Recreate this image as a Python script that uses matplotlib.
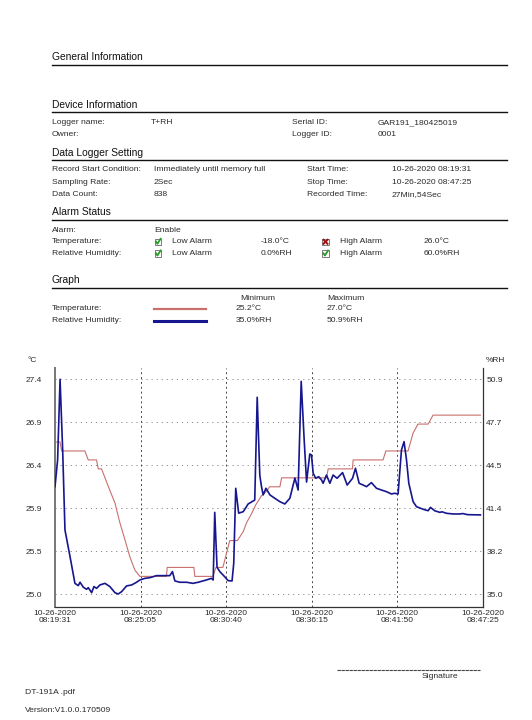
import matplotlib
matplotlib.use('Agg')
import matplotlib.pyplot as plt
from matplotlib.lines import Line2D
from matplotlib.patches import Rectangle
import numpy as np

plt.rcParams['font.family'] = ['Liberation Sans', 'DejaVu Sans']

W, H = 532, 720

# time axis in minutes from start (08:19:31), total 27min 54s
x_ticklabels = ['10-26-2020\n08:19:31', '10-26-2020\n08:25:05', '10-26-2020\n08:30:40',
                '10-26-2020\n08:36:15', '10-26-2020\n08:41:50', '10-26-2020\n08:47:25']
temp_ticklabels = ['25.0', '25.5', '25.9', '26.4', '26.9', '27.4']
rh_ticklabels = ['35.0', '38.2', '41.4', '44.5', '47.7', '50.9']

temp_time = [0.0, 0.33, 0.43, 1.95, 2.17, 2.71, 2.82, 3.04, 3.26, 3.58, 3.91, 4.23, 4.56,
             4.88, 5.21, 5.54, 7.27, 7.32, 9.06, 9.12, 10.3, 10.5, 10.95, 11.4, 11.9,
             12.28, 12.5, 12.82, 13.1, 13.47, 13.8, 14.0, 14.67, 14.78, 17.71, 17.82,
             19.4, 19.45, 21.4, 21.58, 23.03, 23.36, 23.68, 24.34, 24.66, 27.75]
temp_vals = [26.7, 26.7, 26.6, 26.6, 26.5, 26.5, 26.4, 26.4, 26.3, 26.16, 26.02, 25.8, 25.61,
             25.42, 25.27, 25.2, 25.2, 25.3, 25.3, 25.2, 25.2, 25.3, 25.3, 25.6, 25.6,
             25.7, 25.8, 25.9, 26.0, 26.1, 26.15, 26.2, 26.2, 26.3, 26.3, 26.4,
             26.4, 26.5, 26.5, 26.6, 26.6, 26.8, 26.9, 26.9, 27.0, 27.0]

rh_time = [0.0, 0.17, 0.33, 0.5, 0.65, 0.98, 1.3, 1.52, 1.63, 1.85, 2.06, 2.17, 2.39, 2.54,
           2.71, 2.93, 3.26, 3.58, 3.91, 4.12, 4.34, 4.67, 5.0, 5.32, 5.54, 5.86, 6.19, 6.4,
           6.61, 7.06, 7.49, 7.66, 7.82, 8.14, 8.58, 9.0, 9.34, 9.88, 10.2, 10.32, 10.42,
           10.57, 10.75, 11.07, 11.29, 11.55, 11.66, 11.79, 11.98, 12.28, 12.6, 13.03,
           13.19, 13.36, 13.47, 13.58, 13.76, 14.02, 14.34, 14.67, 14.99, 15.32, 15.65,
           15.86, 16.06, 16.25, 16.41, 16.62, 16.73, 16.84, 17.01, 17.2, 17.39, 17.49,
           17.71, 17.93, 18.14, 18.4, 18.76, 19.06, 19.41, 19.6, 19.84, 20.1, 20.32, 20.64,
           20.97, 21.3, 21.62, 21.95, 22.15, 22.38, 22.6, 22.77, 22.93, 23.08, 23.36,
           23.58, 24.01, 24.34, 24.49, 24.77, 25.1, 25.25, 25.54, 25.97, 26.4, 26.6,
           26.92, 27.75]
rh_vals = [42.96, 44.93, 50.9, 45.67, 39.76, 37.79, 35.81, 35.64, 35.89, 35.52, 35.37, 35.49,
           35.12, 35.57, 35.44, 35.69, 35.81, 35.57, 35.12, 35.02, 35.19, 35.62, 35.69, 35.89,
           36.06, 36.18, 36.23, 36.3, 36.38, 36.38, 36.38, 36.68, 35.99, 35.89, 35.89, 35.81,
           35.89, 36.06, 36.18, 36.06, 41.06, 37.0, 36.68, 36.3, 36.01, 35.99, 37.3, 42.84,
           41.0, 41.11, 41.68, 41.97, 49.57, 43.8, 42.96, 42.35, 42.84, 42.35, 42.1, 41.85,
           41.68, 42.1, 43.6, 42.71, 50.75, 46.5, 43.3, 45.38, 45.3, 43.95, 43.58, 43.7,
           43.45, 43.21, 43.82, 43.21, 43.82, 43.58, 44.0, 43.08, 43.58, 44.32, 43.21,
           43.08, 42.96, 43.26, 42.84, 42.71, 42.59, 42.42, 42.47, 42.42, 45.67, 46.29,
           44.93, 43.21, 41.85, 41.48, 41.29, 41.18, 41.43, 41.18, 41.06, 41.1, 40.99,
           40.94, 40.94, 40.97, 40.89, 40.87]

RED = '#c8706c'
BLUE = '#16168e'
INK = '#2a2a2a'


def fx(px):
    return px / W


def fy(py):
    return 1 - py / H


fig = plt.figure(figsize=(W / 100, H / 100), dpi=100)
fig.patch.set_facecolor('white')


def txt(px, py, s, size=6.1, **kw):
    fig.text(fx(px), fy(py), s, fontsize=size, va='center', color=INK, **kw)


def header(py_text, py_line, s):
    fig.text(fx(52), fy(py_text), s, fontsize=7.4, va='center', color='#111111')
    fig.add_artist(Line2D([fx(52), fx(507)], [fy(py_line), fy(py_line)],
                          color='#111111', lw=1.0))


def checkbox(px, py, ok):
    s = 6.4
    fig.add_artist(Rectangle((fx(px - s / 2), fy(py + s / 2)), s / W, s / H,
                             facecolor='white', edgecolor='#666666', lw=0.6))
    if ok:
        fig.add_artist(Line2D([fx(px - 2.0), fx(px - 0.6), fx(px + 2.6)],
                              [fy(py - 0.2), fy(py + 2.0), fy(py - 3.0)],
                              color='#2a9a2a', lw=1.3))
    else:
        fig.add_artist(Line2D([fx(px - 2.0), fx(px + 2.0)], [fy(py - 2.0), fy(py + 2.0)],
                              color='#a01010', lw=1.4))
        fig.add_artist(Line2D([fx(px - 2.0), fx(px + 2.0)], [fy(py + 2.0), fy(py - 2.0)],
                              color='#a01010', lw=1.4))


# ---- document header ----
header(57, 65, 'General Information')
header(105, 112, 'Device Information')
txt(52, 122.5, 'Logger name:')
txt(151, 122.5, 'T+RH')
txt(292, 122.5, 'Serial ID:')
txt(378, 122.5, 'GAR191_180425019')
txt(52, 134, 'Owner:')
txt(292, 134, 'Logger ID:')
txt(378, 134, '0001')

header(152.5, 160, 'Data Logger Setting')
txt(52, 169.5, 'Record Start Condition:')
txt(154, 169.5, 'Immediately until memory full')
txt(307, 169.5, 'Start Time:')
txt(392, 169.5, '10-26-2020 08:19:31')
txt(52, 182, 'Sampling Rate:')
txt(154, 182, '2Sec')
txt(307, 182, 'Stop Time:')
txt(392, 182, '10-26-2020 08:47:25')
txt(52, 194.5, 'Data Count:')
txt(154, 194.5, '838')
txt(307, 194.5, 'Recorded Time:')
txt(392, 194.5, '27Min,54Sec')

header(212.5, 219.5, 'Alarm Status')
txt(52, 230, 'Alarm:')
txt(154, 230, 'Enable')
txt(52, 241.8, 'Temperature:')
checkbox(158, 241.8, True)
txt(172, 241.8, 'Low Alarm')
txt(261, 241.8, '-18.0°C')
checkbox(325.5, 241.8, False)
txt(340, 241.8, 'High Alarm')
txt(424, 241.8, '26.0°C')
txt(52, 253.5, 'Relative Humidity:')
checkbox(158, 253.5, True)
txt(172, 253.5, 'Low Alarm')
txt(261, 253.5, '0.0%RH')
checkbox(325.5, 253.5, True)
txt(340, 253.5, 'High Alarm')
txt(424, 253.5, '60.0%RH')

header(280, 288, 'Graph')
txt(240, 298.5, 'Minimum')
txt(327, 298.5, 'Maximum')
txt(52, 309, 'Temperature:')
fig.add_artist(Line2D([fx(154), fx(206)], [fy(309), fy(309)], color=RED, lw=1.6))
txt(236, 309, '25.2°C')
txt(327, 309, '27.0°C')
txt(52, 320.5, 'Relative Humidity:')
fig.add_artist(Line2D([fx(154), fx(206)], [fy(321), fy(321)], color=BLUE, lw=2.2))
txt(236, 320.5, '35.0%RH')
txt(327, 320.5, '50.9%RH')

# ---- chart ----
ax_left, ax_right, ax_top, ax_bot = 55, 482.7, 368, 607
ax = fig.add_axes([fx(ax_left), fy(ax_bot), (ax_right - ax_left) / W, (ax_bot - ax_top) / H])
ax2 = ax.twinx()

t_lo, t_hi = 25.0, 27.4
r_lo, r_hi = 35.0, 50.9
g_top, g_bot = 379.3, 594.3  # pixel rows of top/bottom gridlines


def lim(lo, hi):
    per = (hi - lo) / (g_bot - g_top)
    return lo - (ax_bot - g_bot) * per, hi + (g_top - ax_top) * per


ax.set_ylim(*lim(t_lo, t_hi))
ax2.set_ylim(*lim(r_lo, r_hi))
ax.set_xlim(0, 27.9)

ax.plot(temp_time, temp_vals, color=RED, lw=0.8, zorder=3)
ax2.plot(rh_time, rh_vals, color=BLUE, lw=1.2, zorder=4)

xt = np.linspace(0, 27.9, 6)
ax.set_xticks(xt)
ax.set_xticklabels(x_ticklabels, fontsize=6.0, linespacing=0.95, color=INK)
ax.set_yticks(np.linspace(t_lo, t_hi, 6))
ax.set_yticklabels(temp_ticklabels, fontsize=6.0, color=INK)
ax2.set_yticks(np.linspace(r_lo, r_hi, 6))
ax2.set_yticklabels(rh_ticklabels, fontsize=6.0, color=INK)
ax.tick_params(axis='x', length=0, pad=2)
ax.tick_params(axis='y', length=0, pad=9.5)
ax2.tick_params(axis='y', length=0, pad=2.5)

for yv in np.linspace(t_lo, t_hi, 6):
    ax.axhline(yv, color='#8a8a8a', lw=0.7, ls=(0, (1.2, 4)), zorder=1)
for xv in xt[1:-1]:
    ax.axvline(xv, color='#444444', lw=0.7, ls=(0, (2, 3)), zorder=1)

for a in (ax, ax2):
    a.spines['top'].set_visible(False)
    a.set_facecolor('none')
ax.spines['left'].set_color('#777777')
ax.spines['left'].set_linewidth(1.4)
ax2.spines['left'].set_visible(False)
ax2.spines['right'].set_color('#333333')
ax2.spines['right'].set_linewidth(0.9)
ax.spines['right'].set_visible(False)
ax.spines['bottom'].set_color('#333333')
ax.spines['bottom'].set_linewidth(0.9)
ax2.spines['bottom'].set_visible(False)

txt(27, 360, '°C', size=6.0)
txt(486, 360, '%RH', size=6.0)

# ---- footer ----
fig.add_artist(Line2D([fx(337), fx(480)], [fy(670), fy(670)], color='#444444', lw=0.8,
                      ls=(0, (3, 0.6))))
txt(440, 676.5, 'Signature', ha='center')
txt(25, 693, 'DT-191A .pdf')
txt(25, 711, 'Version:V1.0.0.170509')

fig.savefig('out.png', dpi=100, facecolor='white')
